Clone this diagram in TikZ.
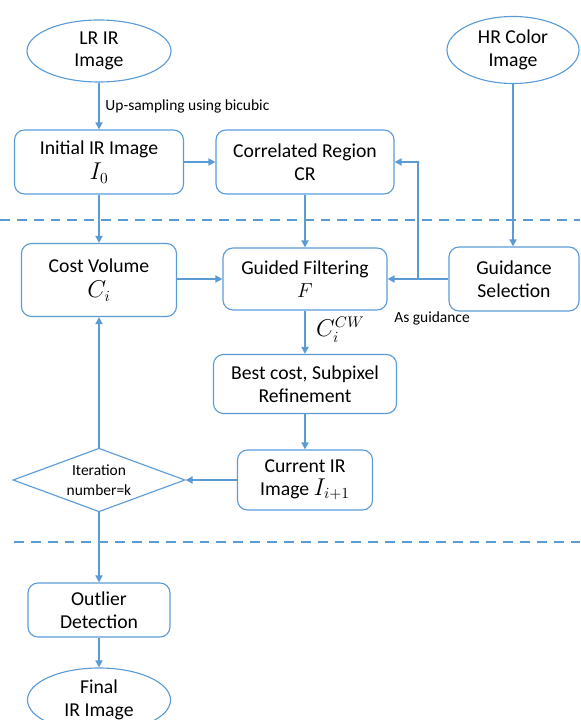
\documentclass[tikz,border=0pt]{standalone}
\usepackage{fontspec}
\setmainfont{Carlito}
\usetikzlibrary{shapes.geometric,arrows.meta}
\definecolor{flowblue}{RGB}{91,155,213}

\tikzset{
  box/.style={draw=flowblue, line width=0.8pt, rounded corners=0.25cm, align=center,
    font=\fontsize{14}{16}\selectfont, inner sep=2pt},
  oval/.style={draw=flowblue, line width=0.8pt, ellipse, align=center,
    font=\fontsize{14}{16}\selectfont, inner sep=0pt},
  decision/.style={draw=flowblue, line width=0.8pt, diamond, aspect=1.95, align=center,
    font=\fontsize{11}{14}\selectfont, inner sep=0pt},
  flow/.style={draw=flowblue, line width=1.2pt, -{Triangle[length=5pt,width=5pt]}},
  sep/.style={draw=flowblue, line width=1.2pt, dash pattern=on 7pt off 5pt},
  note/.style={font=\fontsize{11}{13}\selectfont, inner sep=1pt}
}
\newcommand{\symb}[1]{{\fontsize{16}{18}\selectfont$#1$}}

\begin{document}
\begin{tikzpicture}[x=0.025cm, y=-0.025cm]
  \clip (0,0) rectangle (580,720);
  % top row
  \node[oval, minimum width=3.6cm, minimum height=1.55cm] (lrir) at (99,51) {LR IR\\Image};
  \node[oval, minimum width=3.3cm, minimum height=1.675cm] (hrcol) at (513,50) {HR Color\\Image};
  \node[box, minimum width=4.225cm, minimum height=1.6cm] (init) at (99,162) {Initial IR Image\\[2pt]\symb{I_0}};
  \node[box, minimum width=4.45cm, minimum height=1.6cm] (corr) at (305,162) {Correlated Region\\CR};
  % middle part
  \node[box, minimum width=3.875cm, minimum height=1.825cm] (cost) at (99,280) {Cost Volume\\[2pt]\symb{C_i}};
  \node[box, minimum width=4.1cm, minimum height=1.55cm] (filt) at (305,279) {Guided Filtering\\$F$};
  \node[box, minimum width=3.25cm, minimum height=1.6cm] (guid) at (514,279) {Guidance\\Selection};
  \node[box, minimum width=4.575cm, minimum height=1.475cm] (best) at (305,384) {Best cost, Subpixel\\Refinement};
  \node[box, minimum width=3.375cm, minimum height=1.5cm] (curr) at (305,480) {Current IR\\Image \symb{I_{i+1}}};
  \node[decision, minimum width=4.3cm] (iter) at (99,480) {Iteration\\number=k};
  % bottom part
  \node[box, minimum width=3.55cm, minimum height=1.35cm] (outl) at (99,610) {Outlier\\Detection};
  \node[oval, minimum width=3.575cm, minimum height=1.6cm] (final) at (99,700) {Final\\IR Image};
  \coordinate (split) at (418,279);

  \draw[sep] (0,220) -- (580,220);
  \draw[sep] (14,542) -- (580,542);

  \draw[flow] (lrir) -- node[note, right, midway, xshift=3pt] {Up-sampling using bicubic} (init);
  \draw[flow] (init) -- (corr);
  \draw[flow] (init) -- (cost);
  \draw[flow] (corr) -- (filt);
  \draw[flow] (hrcol.south) -- (hrcol.south |- guid.north);
  \draw[flow] (cost.east |- filt.west) -- (filt);
  \draw[flow] (guid) -- (filt);
  \draw[flow] (split) |- (corr.east);
  \node[note, below right, xshift=-18pt, yshift=-22pt] (asg) at (split) {As guidance};
  \draw[flow] (filt) -- node[right, xshift=4pt, yshift=2pt] {\symb{C_i^{CW}}} (best);
  \draw[flow] (best) -- (curr);
  \draw[flow] (curr) -- (iter);
  \draw[flow] (iter) -- (cost);
  \draw[flow] (iter) -- (outl);
  \draw[flow] (outl) -- (final);
\end{tikzpicture}
\end{document}
